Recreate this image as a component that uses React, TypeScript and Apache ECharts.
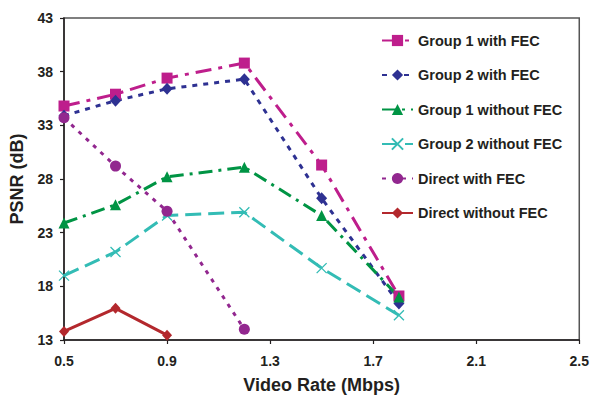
import React, { useEffect, useRef } from "react";
import * as echarts from "echarts";

const xTicks = [0.5, 0.9, 1.3, 1.7, 2.1, 2.5];
const yTicks = [13, 18, 23, 28, 33, 38, 43];

const rates = [0.5, 0.7, 0.9, 1.2, 1.5, 1.8];
const group1WithFEC = [34.8, 35.9, 37.4, 38.8, 29.3, 17.1];
const group2WithFEC = [33.9, 35.3, 36.4, 37.3, 26.2, 16.4];
const group1WithoutFEC = [23.9, 25.6, 28.2, 29.1, 24.6, 17.0];
const group2WithoutFEC = [19.0, 21.2, 24.6, 24.9, 19.7, 15.3];
const directRates = [0.5, 0.7, 0.9, 1.2];
const directWithFEC = [33.7, 29.2, 25.0, 14.0];
const directNoFECRates = [0.5, 0.7, 0.9];
const directWithoutFEC = [13.8, 15.95, 13.45];

const seriesNames = [
  "Group 1 with FEC",
  "Group 2 with FEC",
  "Group 1 without FEC",
  "Group 2 without FEC",
  "Direct with FEC",
  "Direct without FEC",
];

const pairs = (xs: number[], ys: number[]) => xs.map((x, i) => [x, ys[i]]);

const TXT = "#231F20";
const FONT = "Liberation Sans, Arial, sans-serif";

export default function App() {
  const ref = useRef<HTMLDivElement>(null);
  useEffect(() => {
    if (!ref.current) return;
    const chart = echarts.init(ref.current, undefined, { renderer: "svg" });
    const mk = (
      name: string,
      data: number[][],
      color: string,
      symbol: string,
      symbolSize: number | number[],
      type: any,
      extraItem: any = {}
    ) => ({
      name,
      type: "line",
      data,
      symbol,
      symbolSize,
      showSymbol: true,
      lineStyle: { color, width: 3, type },
      itemStyle: { color, ...extraItem },
      emphasis: { disabled: true },
      z: 3,
    });
    chart.setOption({
      animation: false,
      textStyle: { fontFamily: FONT },
      grid: {
        left: 63.5,
        right: 11,
        top: 18,
        bottom: 59,
        show: true,
        borderColor: "#555",
        borderWidth: 1.5,
        backgroundColor: "transparent",
      },
      legend: {
        orient: "vertical",
        left: 376,
        top: 28,
        itemWidth: 31,
        itemHeight: 14,
        itemGap: 19.5,
        textStyle: { color: TXT, fontSize: 14.5, fontWeight: "bold", fontFamily: FONT },
        data: seriesNames,
        selectedMode: false,
      },
      xAxis: {
        type: "value",
        min: 0.5,
        max: 2.5,
        name: "Video Rate (Mbps)",
        nameLocation: "middle",
        nameGap: 36,
        nameTextStyle: { color: TXT, fontSize: 18, fontWeight: "bold", fontFamily: FONT },
        axisLine: { show: true, lineStyle: { color: TXT, width: 1.5 } },
        axisTick: { show: true, length: 4, lineStyle: { color: TXT, width: 1.2 }, customValues: xTicks },
        axisLabel: {
          color: TXT,
          fontSize: 14,
          fontWeight: "bold",
          margin: 14,
          customValues: xTicks,
          formatter: (v: number) => v.toFixed(1),
        },
        splitLine: { show: false },
      },
      yAxis: {
        type: "value",
        min: 13,
        max: 43,
        name: "PSNR (dB)",
        nameLocation: "middle",
        nameGap: 38,
        nameTextStyle: { color: TXT, fontSize: 18, fontWeight: "bold", fontFamily: FONT },
        axisLine: { show: true, lineStyle: { color: TXT, width: 1.5 } },
        axisTick: { show: true, length: 4, lineStyle: { color: TXT, width: 1.2 }, customValues: yTicks },
        axisLabel: {
          color: TXT,
          fontSize: 14,
          fontWeight: "bold",
          margin: 11,
          customValues: yTicks,
        },
        splitLine: { show: false },
      },
      series: [
        mk(seriesNames[0], pairs(rates, group1WithFEC), "#BE1E8C", "rect", 11, [16, 7, 4, 7]),
        mk(seriesNames[1], pairs(rates, group2WithFEC), "#2E3192", "diamond", [11, 12], [5, 6]),
        mk(seriesNames[2], pairs(rates, group1WithoutFEC), "#009444", "triangle", 11, [14, 6, 3, 6]),
        mk(
          seriesNames[3],
          pairs(rates, group2WithoutFEC),
          "#33BCB5",
          "path://M0,0L10,10M10,0L0,10",
          10,
          [16, 7],
          { borderColor: "#33BCB5", borderWidth: 1.3 }
        ),
        mk(seriesNames[4], pairs(directRates, directWithFEC), "#92278F", "circle", 11, [4, 6]),
        mk(seriesNames[5], pairs(directNoFECRates, directWithoutFEC), "#B3282D", "diamond", [10, 11], "solid"),
      ],
    });
    return () => chart.dispose();
  }, []);
  return <div ref={ref} style={{ width: 592, height: 399, position: "absolute", left: 0, top: 0, background: "#fff" }} />;
}
